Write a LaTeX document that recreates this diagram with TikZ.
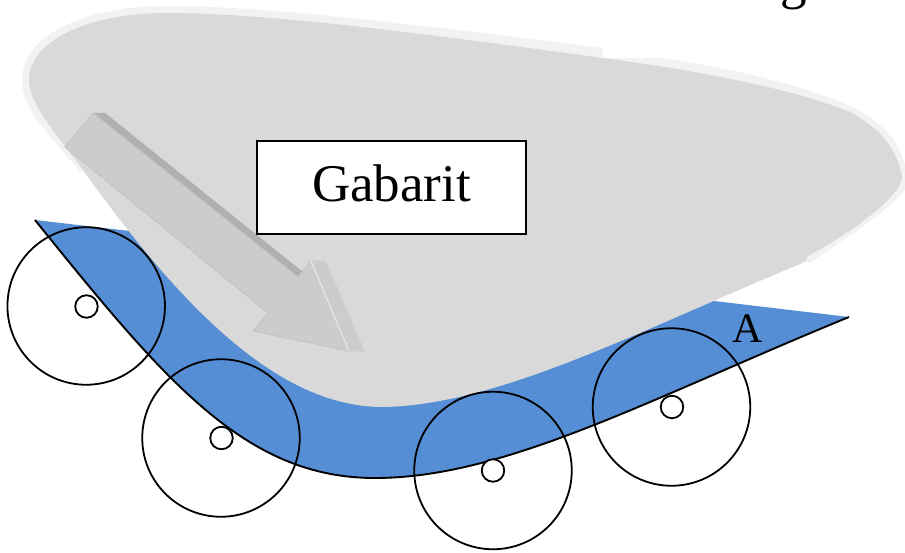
\documentclass[tikz,border=0pt]{standalone}
\usepackage{fontspec}
\setmainfont{Liberation Serif}
\tikzset{
  wheel/.style={circle,draw=black,line width=1.8pt,minimum size=157.5pt,inner sep=0pt},
  hub/.style={circle,draw=black,fill=white,line width=1.8pt,minimum size=22.5pt,inner sep=0pt},
  labelbox/.style={draw=black,fill=white,line width=1.8pt,minimum width=269pt,minimum height=93pt,inner sep=0pt},
  big/.style={font=\fontsize{53}{60}\selectfont,inner sep=0pt},
  small/.style={font=\fontsize{42}{48}\selectfont,inner sep=0pt},
  pale/.style={fill=black!5,draw=none},
  gabfill/.style={fill=black!15,draw=none}
}
\definecolor{partblue}{HTML}{558ED5}
\begin{document}
\begin{tikzpicture}[x=1pt,y=-1pt]
\useasboundingbox (0,0) rectangle (905,553);
% workpiece
\fill[partblue] (35,220) .. controls (165,381) and (245,478) .. (375,478)
  .. controls (505,478) and (649,399) .. (849,317) -- (714,301) -- (400,340) -- (130,231) -- cycle;
\draw[black,line width=1.9pt] (35,220) .. controls (165,381) and (245,478) .. (375,478)
  .. controls (505,478) and (649,399) .. (849,317);
% pale rim
\fill[pale] (80,172) .. controls (50,135) and (22,110) .. (22,80)
  .. controls (22,35) and (85,6) .. (167,6)
  .. controls (260,6) and (400,22) .. (602,48) -- (602,62) -- (167,30) -- (60,100) -- (86,170) -- cycle;
\fill[pale] (602,58) -- (660,58) .. controls (730,68) and (800,84) .. (850,106)
  .. controls (882,120) and (903,145) .. (907,175) -- (907,187)
  .. controls (890,210) and (860,228) .. (810,263) -- (800,258) -- (700,100) -- cycle;
% gabarit
\fill[gabfill] (29,80) .. controls (29,40) and (90,13) .. (167,13)
  .. controls (260,13) and (400,30) .. (602,58)
  .. controls (680,68) and (790,87) .. (850,112)
  .. controls (880,128) and (898,150) .. (902,177)
  .. controls (902,192) and (865,225) .. (808,256) -- (805,262)
  .. controls (640,330) and (500,405) .. (383,407)
  .. controls (285,407) and (190,320) .. (83,170)
  .. controls (60,138) and (29,105) .. (29,80) -- cycle;
% arrow
\fill[black!31] (93,113) -- (105,113) -- (303,272) -- (298,277) -- cycle;
\fill[black!20,draw=black!17,line width=0.6pt] (326,261) -- (365,352) -- (349,351) -- (311,261) -- cycle;
\fill[black!20,draw=black!23,line width=1pt,line join=miter] (65,147) -- (93,113) -- (298,277) -- (311,261) -- (349,351) -- (253,331) -- (268,313) -- cycle;
\draw[black!10,line width=1.4pt] (311,261) -- (349,351);
% label
\node[labelbox,big] (box) at (391.5,187.5) {\raisebox{4pt}[36pt][0pt]{Gabarit}};
\node[small,anchor=base] (a) at (748,342) {A};
\node[big,anchor=base] (g) at (794,-1) {g};
% wheels
\node[wheel] (w1) at (86.2,306) {};
\node[wheel] (w2) at (221,438) {};
\node[wheel] (w3) at (493,470.5) {};
\node[wheel] (w4) at (671.5,407) {};
\node[hub] (h1) at (86.5,306.5) {};
\node[hub] (h2) at (221.5,438) {};
\node[hub] (h3) at (493,470.5) {};
\node[hub] (h4) at (672,407) {};
\end{tikzpicture}
\end{document}
